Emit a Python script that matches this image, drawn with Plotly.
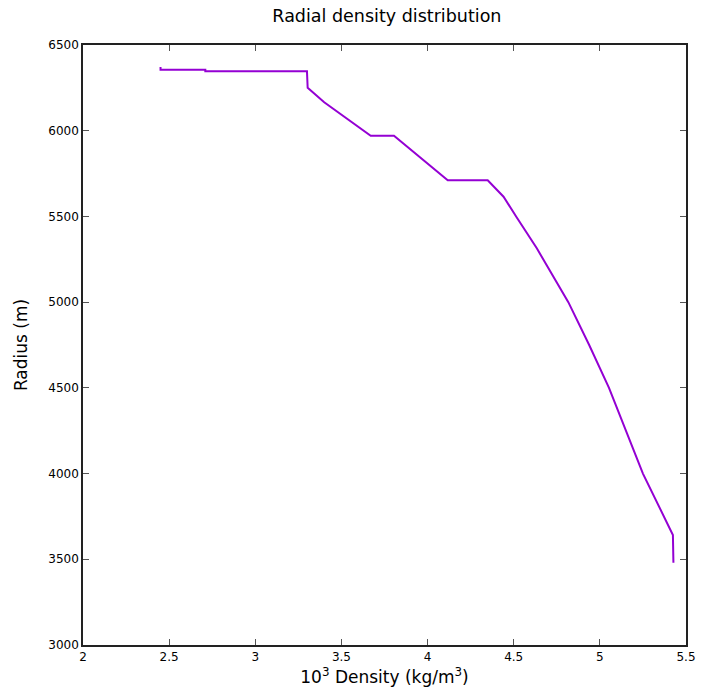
import plotly.graph_objects as go

density = [2.45, 2.45, 2.71, 2.71, 3.30, 3.304, 3.40, 3.67, 3.805, 4.117, 4.349, 4.441,
           4.514, 4.634, 4.817, 4.938, 5.053, 5.152, 5.25, 5.424, 5.427]
radius = [6371, 6356, 6356, 6346.6, 6346.6, 6251, 6166, 5971, 5971, 5711, 5711, 5615,
          5500, 5314, 5000, 4750, 4500, 4250, 4000, 3642, 3480]

x_ticks = [2, 2.5, 3, 3.5, 4, 4.5, 5, 5.5]
y_ticks = [3000, 3500, 4000, 4500, 5000, 5500, 6000, 6500]

fig = go.Figure()
fig.add_trace(go.Scatter(x=density, y=radius, mode="lines",
                         line=dict(color="#9400D3", width=2), showlegend=False))

axis_common = dict(showgrid=False, zeroline=False, showline=True, linecolor="#222222",
                   linewidth=1.5, mirror="ticks", ticks="inside", ticklen=6,
                   tickcolor="#555555", tickwidth=1, ticklabeloverflow="allow",
                   tickfont=dict(family="DejaVu Sans", size=12, color="black"))

fig.update_layout(
    width=701, height=696,
    margin=dict(l=83, r=5, t=45, b=51),
    paper_bgcolor="white", plot_bgcolor="white",
    title=dict(text="Radial density distribution", xref="paper", x=0.504, xanchor="center",
               y=0.977, yanchor="middle",
               font=dict(family="DejaVu Sans", size=17.5, color="black")),
    xaxis=dict(range=[2, 5.5], tickvals=x_ticks, ticktext=[f"{v:g}" for v in x_ticks],
               title=dict(text="10<sup>3</sup> Density (kg/m<sup>3</sup>)", standoff=8,
                          font=dict(family="DejaVu Sans", size=17, color="black")),
               **axis_common),
    yaxis=dict(range=[3000, 6500], tickvals=y_ticks, ticktext=[str(v) for v in y_ticks],
               title=dict(text="Radius (m)", standoff=16,
                          font=dict(family="DejaVu Sans", size=17, color="black")),
               **axis_common),
)

fig.write_html("out.html")
